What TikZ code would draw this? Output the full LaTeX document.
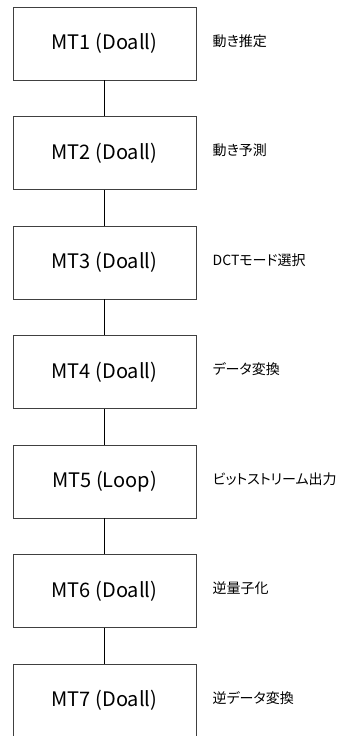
\documentclass[tikz,border=0pt]{standalone}
\usepackage{fontspec}
\setmainfont{Noto Sans CJK JP}
\newfontfamily\jplbl[RawFeature=+palt]{Noto Sans CJK JP}
\begin{document}
\begin{tikzpicture}[x=1pt,y=-1pt,
  mtbox/.style={draw=black!75,line width=0.9pt,minimum width=183pt,minimum height=73pt,inner sep=0pt,font=\fontsize{20}{24}\selectfont},
  lbl/.style={anchor=west,inner sep=0pt,font=\jplbl\fontsize{14}{16}\selectfont},
  link/.style={draw=black,line width=1pt}]
\useasboundingbox (0,0) rectangle (339,736);
\foreach \i/\t/\l in {1/MT1 (Doall)/動き推定,2/MT2 (Doall)/動き予測,3/MT3 (Doall)/DCTモード選択,4/MT4 (Doall)/データ変換,5/MT5 (Loop)/ビットストリーム出力,6/MT6 (Doall)/逆量子化,7/MT7 (Doall)/逆データ変換}{
  \node[mtbox] (b\i) at (104.5,{43.5+109.5*(\i-1)}) {\t};
  \node[lbl] (l\i) at (212.5,{41+109.5*(\i-1)}) {\l};
}
\foreach \i [evaluate=\i as \j using int(\i+1)] in {1,...,6}{
  \draw[link] (b\i.south) -- (b\j.north);
}
\end{tikzpicture}
\end{document}
